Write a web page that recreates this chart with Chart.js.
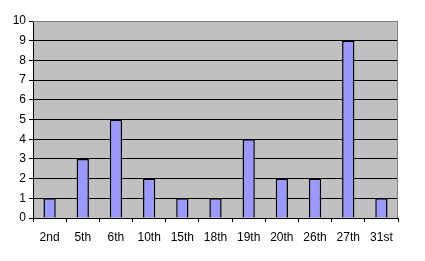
<!DOCTYPE html>
<html>
<head>
<meta charset="utf-8">
<script src="https://cdn.jsdelivr.net/npm/chart.js@4"></script>
<style>
html,body{margin:0;padding:0;background:#fff;}
#wrap{width:425px;height:261px;position:relative;}
</style>
</head>
<body>
<div id="wrap"><canvas id="c" width="425" height="261"></canvas></div>
<script>
const categories = ["2nd","5th","6th","10th","15th","18th","19th","20th","26th","27th","31st"];
const values = [1,3,5,2,1,1,4,2,2,9,1];
const yTicks = [0,1,2,3,4,5,6,7,8,9,10];

const plotBg = {
  id: 'plotBg',
  beforeDraw(chart) {
    const {ctx, chartArea: a} = chart;
    ctx.save();
    ctx.fillStyle = '#c0c0c0';
    ctx.fillRect(a.left, a.top, a.right - a.left, a.bottom - a.top);
    ctx.restore();
  },
  afterDatasetsDraw(chart) {
    const {ctx, chartArea: a} = chart;
    ctx.save();
    ctx.strokeStyle = '#808080';
    ctx.lineWidth = 1;
    ctx.beginPath();
    ctx.moveTo(a.left, a.top + 0.5);
    ctx.lineTo(a.right - 0.5, a.top + 0.5);
    ctx.lineTo(a.right - 0.5, a.bottom);
    ctx.stroke();
    ctx.restore();
  }
};

new Chart(document.getElementById('c'), {
  type: 'bar',
  data: {
    labels: categories,
    datasets: [{
      data: values,
      backgroundColor: '#9999ff',
      borderColor: '#000000',
      borderWidth: 1.5,
      categoryPercentage: 1,
      barPercentage: 0.37
    }]
  },
  options: {
    responsive: false,
    animation: false,
    devicePixelRatio: 1,
    layout: {padding: {top: 21, right: 27, left: 0, bottom: 0}},
    plugins: {legend: {display: false}, tooltip: {enabled: false}},
    scales: {
      y: {
        min: 0, max: 10,
        afterBuildTicks: s => { s.ticks = yTicks.map(v => ({value: v})); },
        afterFit: s => { s.width = 33; },
        ticks: {color: '#000', font: {family: 'Liberation Sans, Arial', size: 12}, padding: 3},
        grid: {
          color: ctx => (ctx.tick && ctx.tick.value === 10) ? 'rgba(0,0,0,0)' : '#000',
          lineWidth: 1,
          tickLength: 4,
          tickColor: '#000'
        },
        border: {color: '#000', width: 1}
      },
      x: {
        afterFit: s => { s.height = 43; },
        ticks: {color: '#000', font: {family: 'Liberation Sans, Arial', size: 12}, padding: 8, maxRotation: 0, autoSkip: false},
        grid: {offset: true, drawOnChartArea: false, tickLength: 4, color: '#000'},
        border: {color: '#000', width: 1}
      }
    }
  },
  plugins: [plotBg]
});
</script>
</body>
</html>
